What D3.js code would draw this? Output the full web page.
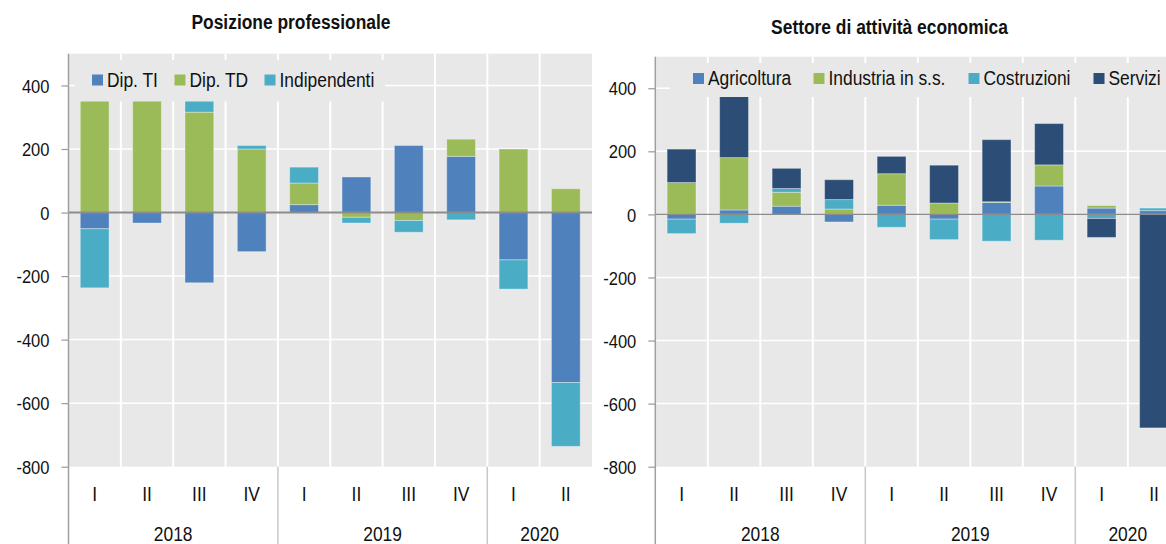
<!DOCTYPE html>
<html>
<head>
<meta charset="utf-8">
<script src="https://cdn.jsdelivr.net/npm/d3@7"></script>
<style>
  body { margin: 0; background: #fff; }
  svg { display: block; font-family: "Liberation Sans", Arial, sans-serif; }
</style>
</head>
<body>
<div id="chart"></div>
<script>
// categories
var quarters = ["I", "II", "III", "IV", "I", "II", "III", "IV", "I", "II"];
var years = ["2018", "2019", "2020"];
var yearSpan = [4, 4, 2];
var yTicks = [400, 200, 0, -200, -400, -600, -800];

// Posizione professionale
var posNames = ["Dip. TI", "Dip. TD", "Indipendenti"];
var dipTI = [-51, -33, -221, -123, 25, 112, 211, 177, -149, -535];
var dipTD = [380, 365, 316, 200, 68, -15, -25, 54, 200, 75];
var indip = [-186, 5, 45, 11, 50, -18, -37, -23, -92, -201];

// Settore di attivita economica
var secNames = ["Agricoltura", "Industria in s.s.", "Costruzioni", "Servizi"];
var agri = [-15, 14, 26, -24, 29, -15, 38, 90, 20, 12];
var industria = [101, 166, 44, 17, 100, 36, 2, 67, 8, 0];
var costruzioni = [-46, -28, 12, 30, -41, -65, -85, -82, -13, 8];
var servizi = [106, 200, 64, 63, 55, 120, 197, 131, -60, -677];

var svgWidth = 1166;
var svgHeight = 544;
var bg = "#e8e8e8";
var squeeze = 0.87;

var svg = d3.select("#chart")
    .append("svg")
    .attr("width", svgWidth)
    .attr("height", svgHeight);

// narrow text, like the original export
function place(sel, x, y) {
    return sel.attr("transform", `translate(${x},${y}) scale(${squeeze},1)`);
}

function drawPanel(o) {
    var g = svg.append("g");

    var rows = quarters.map(function(q, i) {
        var r = {};
        o.names.forEach(function(k, j) { r[k] = o.values[j][i]; });
        return r;
    });
    var series = d3.stack().keys(o.names).offset(d3.stackOffsetDiverging)(rows);

    var cell = d3.scaleBand().domain(d3.range(quarters.length)).range([o.left, o.right]);
    var x = d3.scaleBand().domain(d3.range(quarters.length)).range([o.left, o.right])
        .paddingInner(0.45).paddingOuter(0.225);
    var y = d3.scaleLinear().domain([-800, 500]).range([o.bottom, o.top]);

    // plot background
    g.append("rect")
        .attr("x", o.left)
        .attr("y", o.top)
        .attr("width", Math.min(o.right, svgWidth) - o.left)
        .attr("height", o.bottom - o.top)
        .attr("fill", bg);

    // grid
    g.selectAll(".hgrid")
        .data(yTicks.filter(d => d !== 0 && d !== -800))
        .enter()
        .append("line")
        .attr("x1", o.left)
        .attr("x2", o.right)
        .attr("y1", d => y(d))
        .attr("y2", d => y(d))
        .attr("stroke", "#fff")
        .attr("stroke-width", 1.5);

    g.selectAll(".vgrid")
        .data(d3.range(1, quarters.length))
        .enter()
        .append("line")
        .attr("x1", d => cell(d))
        .attr("x2", d => cell(d))
        .attr("y1", o.top)
        .attr("y2", o.bottom)
        .attr("stroke", "#fff")
        .attr("stroke-width", 2);

    // bars
    g.selectAll(".layer")
        .data(series)
        .enter()
        .append("g")
        .attr("fill", (d, i) => o.colors[i])
        .selectAll("rect")
        .data(d => d)
        .enter()
        .append("rect")
        .attr("x", (d, i) => x(i))
        .attr("width", x.bandwidth())
        .attr("y", d => y(Math.max(d[0], d[1])))
        .attr("height", d => Math.abs(y(d[0]) - y(d[1])))
        .attr("stroke", "rgba(255,255,255,0.35)")
        .attr("stroke-width", 1);

    // zero line
    g.append("line")
        .attr("x1", o.left)
        .attr("x2", o.right)
        .attr("y1", y(0))
        .attr("y2", y(0))
        .attr("stroke", "#8c8c8c")
        .attr("stroke-width", o.zeroWidth);

    // legend sits on top of the bars
    g.append("rect")
        .attr("x", o.legendBox[0])
        .attr("y", o.legendBox[1])
        .attr("width", o.legendBox[2])
        .attr("height", o.legendBox[3])
        .attr("fill", bg);

    o.names.forEach(function(name, i) {
        g.append("rect")
            .attr("x", o.legendX[i])
            .attr("y", o.legendY - 12)
            .attr("width", 11)
            .attr("height", 11)
            .attr("fill", o.colors[i]);
        place(g.append("text"), o.legendX[i] + 15, o.legendY)
            .attr("font-size", 20)
            .attr("fill", "#111")
            .text(name);
    });

    // y axis
    var leftAxis = d3.axisLeft(y)
        .tickValues(yTicks)
        .tickSize(7)
        .tickFormat(d => String(d));

    var ax = g.append("g")
        .attr("transform", `translate(${o.left},0)`)
        .call(leftAxis);
    ax.select(".domain").remove();
    ax.selectAll(".tick line").attr("stroke", "#9a9a9a").attr("stroke-width", 1.2);
    ax.selectAll(".tick text")
        .attr("x", null)
        .attr("dy", "0.35em")
        .attr("font-size", 19)
        .attr("fill", "#111")
        .attr("font-family", "'Liberation Sans', Arial, sans-serif")
        .attr("transform", `translate(-19,0) scale(${squeeze},1)`);

    g.append("line")
        .attr("x1", o.left)
        .attr("x2", o.left)
        .attr("y1", o.top)
        .attr("y2", svgHeight)
        .attr("stroke", "#a0a0a0")
        .attr("stroke-width", 1.5);

    // year separators under the plot
    var starts = [0];
    yearSpan.forEach(function(n, i) { starts.push(starts[i] + n); });
    starts.slice(1, -1).forEach(function(k) {
        g.append("line")
            .attr("x1", cell(k))
            .attr("x2", cell(k))
            .attr("y1", o.bottom)
            .attr("y2", svgHeight)
            .attr("stroke", "#c8c8c8")
            .attr("stroke-width", 1.5);
    });

    // quarter labels
    quarters.forEach(function(q, i) {
        place(g.append("text"), cell(i) + cell.bandwidth() / 2, 501)
            .attr("text-anchor", "middle")
            .attr("font-size", 20)
            .attr("fill", "#111")
            .text(q);
    });

    // year labels
    years.forEach(function(yr, i) {
        var cx = (cell(starts[i]) + cell(starts[i + 1] - 1) + cell.bandwidth()) / 2;
        place(g.append("text"), cx, 541)
            .attr("text-anchor", "middle")
            .attr("font-size", 20)
            .attr("fill", "#111")
            .text(yr);
    });

    // title
    place(g.append("text"), o.titleX, o.titleY)
        .attr("text-anchor", "middle")
        .attr("font-size", 20)
        .attr("font-weight", 700)
        .attr("fill", "#111")
        .text(o.title);
}

drawPanel({
    title: "Posizione professionale",
    titleX: 291,
    titleY: 29,
    names: posNames,
    values: [dipTI, dipTD, indip],
    colors: ["#4f81bd", "#9bbb59", "#4bacc6"],
    left: 68.5,
    right: 592,
    top: 53.7,
    bottom: 466.7,
    zeroWidth: 2,
    legendBox: [75, 60, 310, 41.5],
    legendX: [92, 174.5, 264.5],
    legendY: 86.5
});

drawPanel({
    title: "Settore di attività economica",
    titleX: 889.5,
    titleY: 34,
    names: secNames,
    values: [agri, industria, costruzioni, servizi],
    colors: ["#4f81bd", "#9bbb59", "#4bacc6", "#2c4d75"],
    left: 655.3,
    right: 1180.3,
    top: 56.7,
    bottom: 466.7,
    zeroWidth: 1.3,
    legendBox: [670, 63, 500, 34],
    legendX: [693, 813.5, 968.5, 1093.5],
    legendY: 85
});
</script>
</body>
</html>
